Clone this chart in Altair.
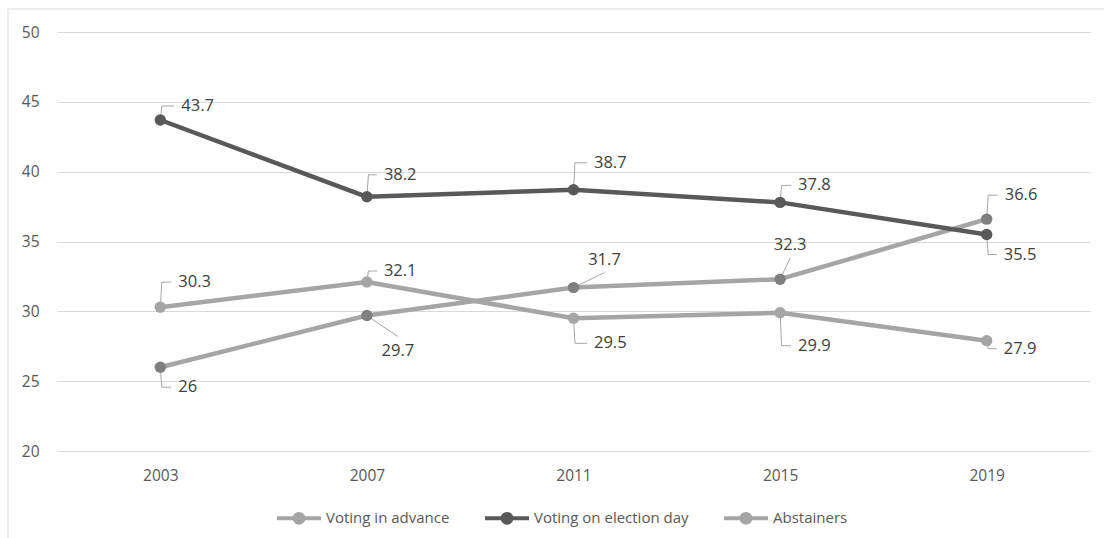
import altair as alt
import pandas as pd

# ---- data ----
years = [2003, 2007, 2011, 2015, 2019]
series_names = ["Voting in advance", "Voting on election day", "Abstainers"]
voting_in_advance = [26, 29.7, 31.7, 32.3, 36.6]
voting_on_election_day = [43.7, 38.2, 38.7, 37.8, 35.5]
abstainers = [30.3, 32.1, 29.5, 29.9, 27.9]

# ---- label placement: pixel offset from each point to its label ----
advance_label_dx = [18, 31, 31, 10, 18]
advance_label_dy = [20, 35, -28, -34, -24]
advance_label_kind = ["elbow", "straight", "straight", "straight", "elbow"]
election_label_dx = [21, 17, 20.5, 18, 17]
election_label_dy = [-14, -22, -27, -17, 20]
election_label_kind = ["elbow"] * 5
abstainers_label_dx = [18, 17, 20.5, 18, 17]
abstainers_label_dy = [-25, -11, 25, 33, 8]
abstainers_label_kind = ["elbow"] * 5

# ---- styling ----
line_colors = ["#a5a5a5", "#595959", "#a5a5a5"]
marker_colors = ["#7f7f7f", "#595959", "#a5a5a5"]
FONT = "Open Sans"
W, H = 1033, 419
X_DOMAIN = [2001, 2021]
Y_DOMAIN = [20, 50]
PPX = W / (X_DOMAIN[1] - X_DOMAIN[0])   # pixels per year
PPY = H / (Y_DOMAIN[1] - Y_DOMAIN[0])   # pixels per percentage point

values = [voting_in_advance, voting_on_election_day, abstainers]
dxs = [advance_label_dx, election_label_dx, abstainers_label_dx]
dys = [advance_label_dy, election_label_dy, abstainers_label_dy]
kinds = [advance_label_kind, election_label_kind, abstainers_label_kind]

rows, leaders = [], []
for s, name in enumerate(series_names):
    for i, yr in enumerate(years):
        v = values[s][i]
        dx, dy, kind = dxs[s][i], dys[s][i], kinds[s][i]
        lx = yr + dx / PPX
        ly = v - dy / PPY
        rows.append(dict(series=name, year=yr, value=v, label=f"{v:g}",
                         lx=lx, ly=ly,
                         align="left" if kind == "elbow" else "center"))
        key = f"{s}-{i}"
        if kind == "elbow":
            pts = [(yr, v), (yr + 1.5 / PPX, ly), (lx - 7 / PPX, ly)]
        else:
            gap = 14 if dy > 0 else -13
            pts = [(yr, v), (lx, ly + gap / PPY)]
        for k, (px, py) in enumerate(pts):
            leaders.append(dict(key=key, step=k, x=px, y=py))

df = pd.DataFrame(rows)
leader_df = pd.DataFrame(leaders)

x_scale = alt.Scale(domain=X_DOMAIN, nice=False, zero=False)
y_scale = alt.Scale(domain=Y_DOMAIN, nice=False, zero=False)
legend = alt.Legend(title=None)

x_enc = alt.X("year:Q", scale=x_scale,
              axis=alt.Axis(values=years, format="d", grid=False, title=None,
                            labelPadding=17))
y_enc = alt.Y("value:Q", scale=y_scale,
              axis=alt.Axis(values=[20, 25, 30, 35, 40, 45, 50], title=None,
                            labelPadding=18))

base = alt.Chart(df)

# thin outer frame around the whole figure
frame = alt.Chart(pd.DataFrame({"f": [0]})).mark_rect(
    fillOpacity=0, stroke="#d9d9d9", strokeWidth=1
).encode(
    x=alt.value(-49), x2=alt.value(W + 40),
    y=alt.value(-23), y2=alt.value(H + 100),
)

leader_lines = alt.Chart(leader_df).mark_line(
    color="#a6a6a6", strokeWidth=1
).encode(
    x=alt.X("x:Q", scale=x_scale),
    y=alt.Y("y:Q", scale=y_scale),
    detail="key:N",
    order="step:Q",
)

lines = base.mark_line(strokeWidth=4.5, strokeJoin="round", strokeCap="round").encode(
    x=x_enc, y=y_enc,
    stroke=alt.Stroke("series:N",
                      scale=alt.Scale(domain=series_names, range=line_colors),
                      legend=legend),
)

points = base.mark_circle(size=130, opacity=1).encode(
    x=x_enc, y=y_enc,
    fill=alt.Fill("series:N",
                  scale=alt.Scale(domain=series_names, range=marker_colors),
                  legend=legend),
)

labels_left = base.transform_filter("datum.align == 'left'").mark_text(
    align="left", baseline="middle", font=FONT, fontSize=16.5, color="#404040"
).encode(
    x=alt.X("lx:Q", scale=x_scale), y=alt.Y("ly:Q", scale=y_scale), text="label:N"
)
labels_center = base.transform_filter("datum.align == 'center'").mark_text(
    align="center", baseline="middle", font=FONT, fontSize=16.5, color="#404040"
).encode(
    x=alt.X("lx:Q", scale=x_scale), y=alt.Y("ly:Q", scale=y_scale), text="label:N"
)

symbol_path = ("M-1,0H1M0.2,0A0.2,0.2,0,1,1,-0.2,0"
               "A0.2,0.2,0,1,1,0.2,0Z")

chart = alt.layer(
    lines, leader_lines, points, labels_left, labels_center, frame
).properties(
    width=W, height=H,
    autosize="none",
    padding={"left": 57, "top": 32, "right": 14, "bottom": 87},
).configure_view(
    strokeWidth=0
).configure_axis(
    labelFont=FONT, labelFontSize=15.5, labelColor="#595959",
    domain=False, ticks=False, gridColor="#d9d9d9", gridWidth=1,
).configure_legend(
    orient="none", legendX=218, legendY=462, direction="horizontal",
    columns=3, columnPadding=27, padding=0,
    symbolType=symbol_path, symbolSize=1936, symbolStrokeWidth=4,
    labelFont=FONT, labelFontSize=15, labelColor="#595959", labelOffset=3,
)

chart.save("out.html", embed_options={"renderer": "svg", "actions": False})
